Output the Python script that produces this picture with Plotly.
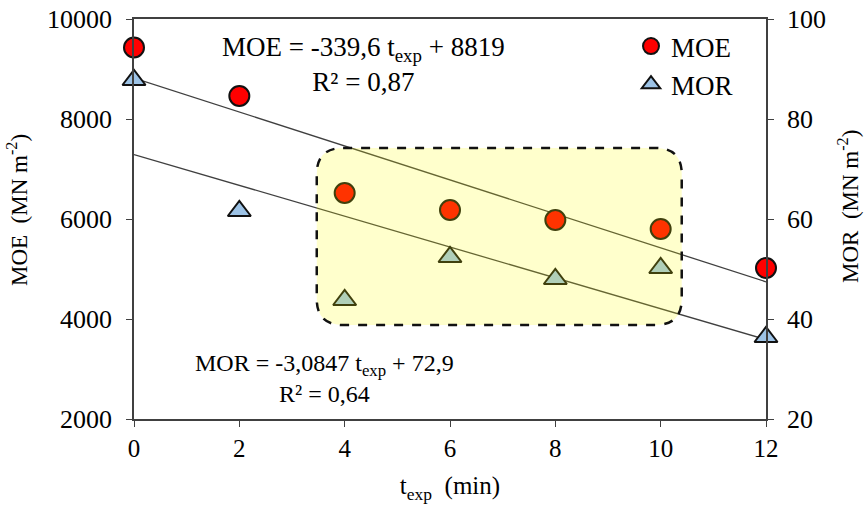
import plotly.graph_objects as go

# ---- data ----
t_exp = [0, 2, 4, 6, 8, 10, 12]
moe = [9430, 8460, 6520, 6180, 5980, 5800, 5020]
mor = [87.8, 61.6, 43.8, 52.4, 48.0, 50.2, 36.4]

# regression coefficients (slope, intercept) as printed on the chart
moe_fit = [-339.6, 8819]
mor_fit = [-3.0847, 72.9]

x_ticks = [0, 2, 4, 6, 8, 10, 12]

FONT = "Liberation Serif"
AXC = "#404040"

PL, PR, PT, PB = 134, 766, 19, 419   # target plot area in page pixels
W, H = 867, 507
L, T, R, B = PL, PT, W - PR, H - PB
PW, PH = PR - PL, PB - PT


def px(xp):
    return (xp - PL) / PW


def py(yp):
    return (PB - yp) / PH


fit_x = [min(t_exp), max(t_exp)]
moe_line = [moe_fit[0] * x + moe_fit[1] for x in fit_x]
mor_line = [mor_fit[0] * x + mor_fit[1] for x in fit_x]

fig = go.Figure()

fig.add_trace(go.Scatter(x=fit_x, y=moe_line, mode="lines",
                         line=dict(color="#404040", width=1.3),
                         showlegend=False, hoverinfo="skip", yaxis="y"))
fig.add_trace(go.Scatter(x=fit_x, y=mor_line, mode="lines",
                         line=dict(color="#404040", width=1.3),
                         showlegend=False, hoverinfo="skip", yaxis="y2"))

fig.add_trace(go.Scatter(x=t_exp, y=moe, mode="markers", name="MOE",
                         marker=dict(symbol="circle", size=20, color="#FF0000",
                                     line=dict(color="#111111", width=2)),
                         cliponaxis=False, yaxis="y"))
fig.add_trace(go.Scatter(x=t_exp, y=mor, mode="markers", name="MOR",
                         marker=dict(symbol="triangle-up", size=20, color="#9DC3E6",
                                     line=dict(color="#111111", width=2)),
                         cliponaxis=False, yaxis="y2"))

# highlighted region (rounded, dashed, translucent yellow)
x0, x1, y0, y1 = 3.47, 10.4, 3880, 7420
rx, ry = 0.5, 520
path = (f"M {x0+rx},{y1} L {x1-rx},{y1} Q {x1},{y1} {x1},{y1-ry} "
        f"L {x1},{y0+ry} Q {x1},{y0} {x1-rx},{y0} "
        f"L {x0+rx},{y0} Q {x0},{y0} {x0},{y0+ry} "
        f"L {x0},{y1-ry} Q {x0},{y1} {x0+rx},{y1} Z")
fig.add_shape(type="path", path=path, xref="x", yref="y",
              fillcolor="rgba(255,255,0,0.2)",
              line=dict(color="#111111", width=2.5, dash="dash"),
              layer="above")

fig.add_annotation(x=px(363), y=py(64), xref="paper", yref="paper", showarrow=False,
                   xanchor="center", yanchor="middle",
                   text="MOE = -339,6 t<sub>exp</sub> + 8819<br>R² = 0,87",
                   align="center", font=dict(family=FONT, size=27, color="black"))
fig.add_annotation(x=px(324), y=py(378), xref="paper", yref="paper", showarrow=False,
                   xanchor="center", yanchor="middle",
                   text="MOR = -3,0847 t<sub>exp</sub> + 72,9<br>R² = 0,64",
                   align="center", font=dict(family=FONT, size=24, color="black"))

# axis titles placed as rotated text
fig.add_annotation(x=px(17), y=py(210), xref="paper", yref="paper", showarrow=False,
                   xanchor="center", yanchor="middle", textangle=-90,
                   text="MOE  (MN m<sup>-2</sup>)",
                   font=dict(family=FONT, size=23, color="black"))
fig.add_annotation(x=px(848), y=py(207), xref="paper", yref="paper", showarrow=False,
                   xanchor="center", yanchor="middle", textangle=-90,
                   text="MOR  (MN m<sup>-2</sup>)",
                   font=dict(family=FONT, size=23, color="black"))

fig.update_layout(
    width=W, height=H,
    margin=dict(l=L, r=R, t=T, b=B, autoexpand=False),
    plot_bgcolor="white", paper_bgcolor="white",
    font=dict(family=FONT, size=24, color="black"),
    showlegend=True,
    legend=dict(x=px(631), y=py(22), xanchor="left", yanchor="top",
                bgcolor="rgba(0,0,0,0)", font=dict(family=FONT, size=27, color="black"),
                itemwidth=30, tracegroupgap=0),
    xaxis=dict(range=[0, 12], tickvals=x_ticks, ticks="outside", ticklen=6,
               tickcolor=AXC, showline=True, linecolor=AXC, linewidth=1.5,
               mirror=True, showgrid=False, zeroline=False, automargin=False,
               tickfont=dict(family=FONT, size=25, color="black"),
               title=dict(text="t<sub>exp</sub>  (min)", standoff=16,
                          font=dict(family=FONT, size=25, color="black"))),
    yaxis=dict(range=[2000, 10000], dtick=2000, tickformat="d", ticks="outside", ticklen=6,
               tickcolor=AXC, showline=True, linecolor=AXC, linewidth=1.5,
               showgrid=False, zeroline=False, automargin=False,
               ticklabelstandoff=9,
               tickfont=dict(family=FONT, size=26, color="black")),
    yaxis2=dict(range=[20, 100], dtick=20, ticks="outside", ticklen=6,
                tickcolor=AXC, showline=True, linecolor=AXC, linewidth=1.5,
                overlaying="y", side="right", showgrid=False, zeroline=False,
                automargin=False, ticklabelstandoff=8,
                tickfont=dict(family=FONT, size=26, color="black")),
)

fig.write_html("out.html", config={"displayModeBar": False},
               post_script="document.body.style.margin='0px';")
